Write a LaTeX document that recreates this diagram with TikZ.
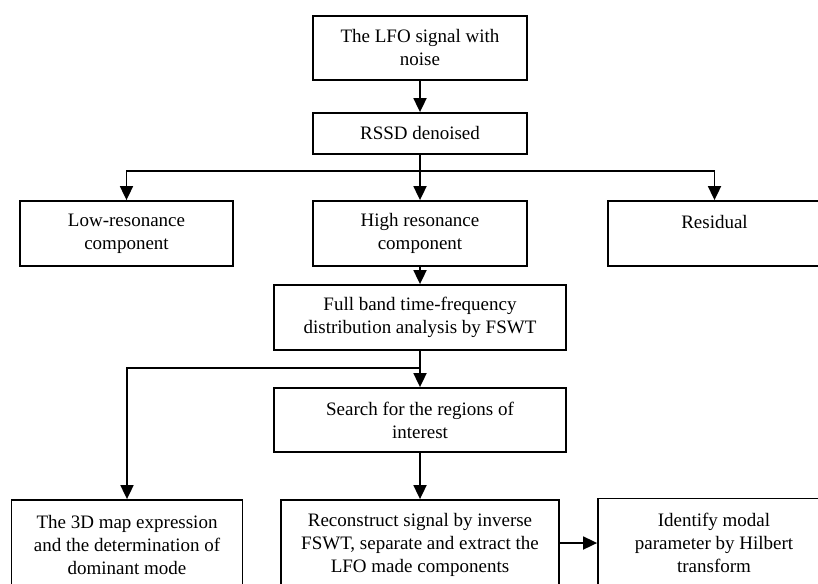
\documentclass[tikz,border=0pt]{standalone}
\usepackage{fontspec}
\setmainfont{Liberation Serif}
\usetikzlibrary{arrows.meta}
\begin{document}
\begin{tikzpicture}[x=1pt,y=-1pt,
  box/.style={draw, line width=1.8pt, inner sep=0pt, align=center, font=\fontsize{19}{23}\selectfont},
  arr/.style={-{Triangle[length=14pt,width=13pt]}, line width=1.8pt},
  ln/.style={line width=1.8pt}]
\useasboundingbox (0,0) rectangle (818,583);
\clip (0,0) rectangle (818,583);
\node[box, minimum width=214pt, minimum height=64pt] (lfo) at (420,48) {The LFO signal with\\noise};
\node[box, minimum width=214pt, minimum height=41pt] (rssd) at (420,133.5) {RSSD denoised};
\node[box, minimum width=213pt, minimum height=65pt] (low) at (126.5,233.5) {Low-resonance\\component};
\node[box, minimum width=214pt, minimum height=65pt] (high) at (420,233.5) {High resonance\\component};
\node[box, minimum width=213pt, minimum height=65pt] (res) at (714.5,233.5) {Residual\\~};
\node[box, minimum width=292pt, minimum height=65pt] (fswt) at (420,317.5) {Full band time-frequency\\distribution analysis by FSWT};
\node[box, minimum width=292pt, minimum height=64pt] (search) at (420,420) {Search for the regions of\\interest};
\node[box, minimum width=231pt, minimum height=90pt] (map) at (127,545) {The 3D map expression\\and the determination of\\dominant mode};
\node[box, minimum width=278pt, minimum height=90pt] (recon) at (420,545) {Reconstruct signal by inverse\\FSWT, separate and extract the\\LFO made components};
\node[box, minimum width=232pt, minimum height=89pt] (ident) at (714,543) {Identify modal\\parameter by Hilbert\\transform};
\coordinate (j1) at (420,170.7);
\coordinate (j2) at (420,368.3);
\draw[arr] (lfo) -- (rssd);
\draw[ln] (rssd) -- (j1);
\draw[arr] (j1) -| (low.north);
\draw[arr] (j1) -- (high);
\draw[arr] (j1) -| (res.north);
\draw[arr] (high) -- (fswt);
\draw[arr] (fswt) -- (search);
\draw[arr] (j2) -| (map.north);
\draw[arr] (search) -- (recon);
\draw[arr] (recon.east |- ident.west) -- (ident.west);
\end{tikzpicture}
\end{document}
